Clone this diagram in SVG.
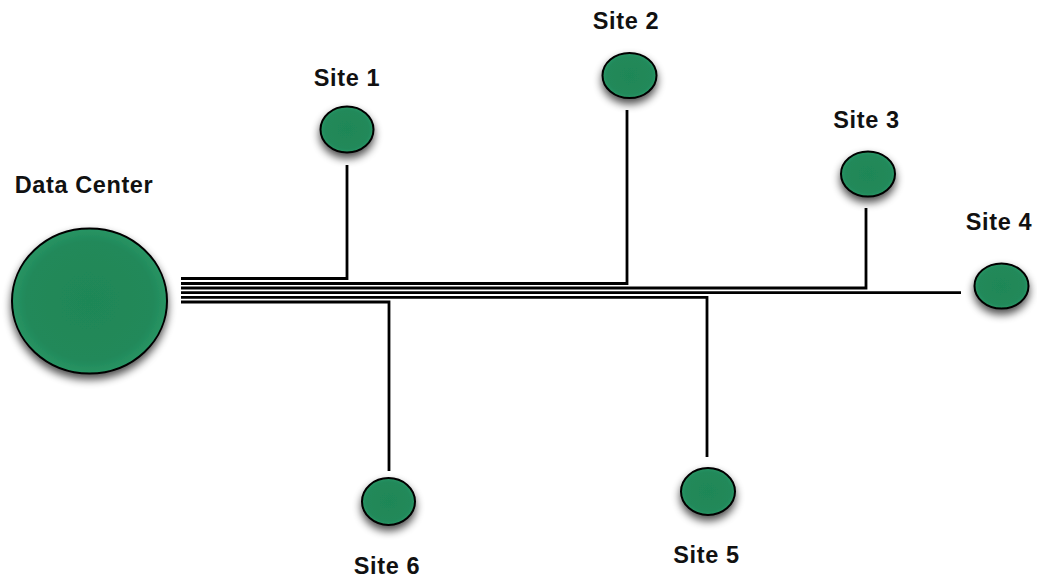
<svg xmlns="http://www.w3.org/2000/svg" width="1037" height="577" viewBox="0 0 1037 577">
<style>
.node{fill:url(#g);stroke:#000;stroke-width:2;filter:url(#sh)}
.lbl{font-family:"Liberation Sans",Arial,sans-serif;font-weight:bold;font-size:23.5px;letter-spacing:0.6px;fill:#111;text-anchor:middle}
.wire{fill:none;stroke:#000;stroke-width:2.8;stroke-linejoin:miter}
</style>
<defs>
<radialGradient id="g" cx="50%" cy="50%" r="55%">
<stop offset="0" stop-color="#1f8757"/>
<stop offset="0.75" stop-color="#21895a"/>
<stop offset="1" stop-color="#2d9c6a"/>
</radialGradient>
<filter id="sh" x="-30%" y="-30%" width="160%" height="170%">
<feGaussianBlur in="SourceAlpha" stdDeviation="4"/>
<feOffset dx="0" dy="5" result="b"/>
<feComponentTransfer><feFuncA type="linear" slope="0.7"/></feComponentTransfer>
<feMerge><feMergeNode/><feMergeNode in="SourceGraphic"/></feMerge>
</filter>
</defs>
<g id="connectors">
<path class="wire" d="M181 278.5 H347 V165"/>
<path class="wire" d="M181 283.5 H627 V110"/>
<path class="wire" d="M181 288 H866 V208"/>
<path class="wire" d="M181 292.7 H961"/>
<path class="wire" d="M181 297.3 H707 V457"/>
<path class="wire" d="M181 302 H389 V471"/>
</g>
<g id="datacenter">
<ellipse class="node" cx="89.5" cy="301" rx="77.5" ry="72.5"/>
<text class="lbl" x="84" y="193">Data Center</text>
</g>
<g id="site1">
<ellipse class="node" cx="347" cy="129.5" rx="26.5" ry="23"/>
<text class="lbl" x="347" y="86">Site 1</text>
</g>
<g id="site2">
<ellipse class="node" cx="629.5" cy="75.5" rx="27" ry="22.5"/>
<text class="lbl" x="626" y="29">Site 2</text>
</g>
<g id="site3">
<ellipse class="node" cx="868" cy="174" rx="27" ry="22.5"/>
<text class="lbl" x="866.5" y="128">Site 3</text>
</g>
<g id="site4">
<ellipse class="node" cx="1001.5" cy="286" rx="27" ry="22.5"/>
<text class="lbl" x="999" y="230">Site 4</text>
</g>
<g id="site5">
<ellipse class="node" cx="708" cy="491.5" rx="27" ry="23.5"/>
<text class="lbl" x="706.5" y="563">Site 5</text>
</g>
<g id="site6">
<ellipse class="node" cx="388.5" cy="501.5" rx="26.5" ry="23.5"/>
<text class="lbl" x="387" y="574">Site 6</text>
</g>
</svg>
